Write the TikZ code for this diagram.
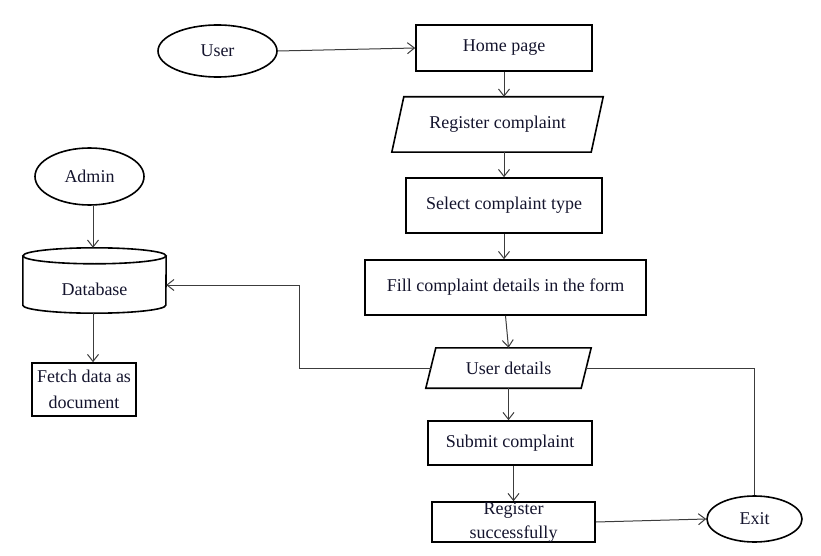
\documentclass[tikz,border=0pt]{standalone}
\usepackage{fontspec}
\setmainfont{Liberation Serif}
\usetikzlibrary{arrows.meta,shapes.geometric}
\definecolor{txtc}{RGB}{20,20,45}
\definecolor{linec}{RGB}{60,60,60}
\begin{document}
\begin{tikzpicture}[x=1pt,y=-1pt,
  every node/.style={font=\fontsize{18}{23}\selectfont, text=txtc, inner sep=0pt},
  box/.style={draw, line width=1.6pt, rectangle},
  oval/.style={draw, line width=1.6pt, ellipse},
  para/.style={rectangle},
  parashape/.style={line width=1.6pt},
  conn/.style={line width=1pt, draw=linec, -{Straight Barb[length=7pt,width=11pt]}},
  plain/.style={line width=1pt, draw=linec}
]
\useasboundingbox (0,0) rectangle (821,556);

% right column
\node[oval, minimum width=119pt, minimum height=52pt] (user) at (217.5,51) {User};
\node[box, minimum width=176pt, minimum height=46pt] (home) at (504,48) {Home page};
\node[para, minimum width=199pt, minimum height=55pt] (reg) at (497.5,124.5) {Register complaint};
\draw[parashape] ([xshift=6pt]reg.north west) -- ([xshift=6pt]reg.north east) -- ([xshift=-6pt]reg.south east) -- ([xshift=-6pt]reg.south west) -- cycle;
\node[box, minimum width=196pt, minimum height=55pt] (sel) at (504,205.5) {Select complaint type};
\node[box, minimum width=281pt, minimum height=55pt] (fill) at (505.5,287.5) {Fill complaint details in the form};
\node[para, minimum width=155pt, minimum height=40pt] (ud) at (508.5,368) {User details};
\draw[parashape] ([xshift=5pt]ud.north west) -- ([xshift=5pt]ud.north east) -- ([xshift=-5pt]ud.south east) -- ([xshift=-5pt]ud.south west) -- cycle;
\node[box, minimum width=164pt, minimum height=44pt] (sub) at (510,443) {Submit complaint};
\node[box, minimum width=163pt, minimum height=40pt, align=center, font=\fontsize{18}{24}\selectfont] (regs) at (513.5,522) {Register\\successfully};
\node[oval, minimum width=95pt, minimum height=46pt] (exit) at (754.5,519) {Exit};

% left column
\node[oval, minimum width=109pt, minimum height=57pt] (admin) at (89.5,176.5) {Admin};
\node[rectangle, minimum width=143pt, minimum height=65pt] (db) at (94.5,280.5) {};
\draw[parashape] ([yshift=-8pt]db.north west) -- ([yshift=8pt]db.south west)
  arc[start angle=180, end angle=360, x radius=71.5pt, y radius=8pt]
  -- ([yshift=-8pt]db.north east);
\draw[parashape] ([yshift=-8pt]db.north) ellipse [x radius=71.5pt, y radius=8pt];
\node (dblabel) at (94.5,289) {Database};
\node[box, minimum width=104pt, minimum height=53pt, align=center, font=\fontsize{18}{26}\selectfont] (fetch) at (84,389.5) {Fetch data as\\document};

% connectors
\draw[conn] (user.east) -- (home.west);
\draw[conn] (home.south) -- (home.south |- reg.north);
\draw[conn] (sel.north |- reg.south) -- (sel.north);
\draw[conn] (sel.south) -- (sel.south |- fill.north);
\draw[conn] (fill.south) -- (ud.north);
\draw[conn] (ud.south) -- (ud.south |- sub.north);
\draw[conn] (regs.north |- sub.south) -- (regs.north);
\draw[conn] (regs.east) -- (exit.west);
\draw[plain] (ud.east) -| (exit.north);
\coordinate (bend) at (299,285);
\draw[conn] (ud.west) -| (bend) -- (bend -| db.east);
\draw[conn] ([xshift=3.5pt]admin.south) -- ([xshift=3.5pt]admin.south |- db.north);
\draw[conn] ([xshift=-1.5pt]db.south) -- ([xshift=-1.5pt]db.south |- fetch.north);
\end{tikzpicture}
\end{document}
